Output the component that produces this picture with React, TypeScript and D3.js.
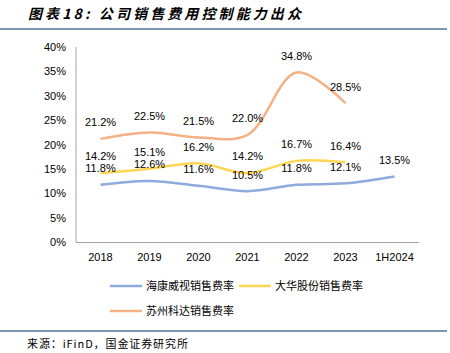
import React from "react";
import * as d3 from "d3";

const categories = ["2018", "2019", "2020", "2021", "2022", "2023", "1H2024"];
const hikvision = [11.8, 12.6, 11.6, 10.5, 11.8, 12.1, 13.5];
const dahua = [14.2, 15.1, 16.2, 14.2, 16.7, 16.4];
const keda = [21.2, 22.5, 21.5, 22.0, 34.8, 28.5];
const yTicks = [0, 5, 10, 15, 20, 25, 30, 35, 40];
const seriesNames = ["海康威视销售费率", "大华股份销售费率", "苏州科达销售费率"];

const COLORS = ["#8FAADC", "#FFD652", "#F4B183"];
const FONT = "Arial, 'Liberation Sans', 'Noto Sans CJK SC', sans-serif";

export default function App() {
  const W = 450, H = 353;
  const x = d3.scalePoint<string>().domain(categories).range([76, 419]).padding(0.5);
  const y = d3.scaleLinear().domain([0, 40]).range([242.5, 47]);
  const line = d3
    .line<number>()
    .x((_, i) => x(categories[i]) as number)
    .y((d) => y(d))
    .curve(d3.curveCatmullRom.alpha(0.5));
  const series = [hikvision, dahua, keda];

  return (
    <svg width={W} height={H} style={{ position: "absolute", left: 0, top: 0, background: "#fff" }} fontFamily={FONT}>
      <text x={28} y={19} fontSize={14} fontWeight="bold" fontStyle="italic" letterSpacing={3.1} fill="#000"
        fontFamily="'Noto Sans CJK SC', sans-serif">
        图表18: 公司销售费用控制能力出众
      </text>
      <line x1={0} x2={447} y1={29} y2={29} stroke="#4F7394" strokeWidth={1.5} />

      {/* axes */}
      <line x1={76} x2={76} y1={47} y2={242.5} stroke="#A6A6A6" strokeWidth={1} />
      <line x1={76} x2={419} y1={242.5} y2={242.5} stroke="#A6A6A6" strokeWidth={1} />
      {yTicks.map((t) => (
        <text key={t} x={66} y={y(t)} dy="0.35em" textAnchor="end" fontSize={11} fill="#000">
          {t}%
        </text>
      ))}
      {categories.map((c) => (
        <text key={c} x={x(c)} y={257} dy="0.35em" textAnchor="middle" fontSize={11} fill="#000">
          {c}
        </text>
      ))}

      {series.map((s, si) => (
        <path key={si} d={line(s) || ""} fill="none" stroke={COLORS[si]} strokeWidth={2.5} />
      ))}
      {series.map((s, si) =>
        s.map((v, i) => (
          <text key={si + "-" + i} x={x(categories[i])} y={y(v) - 16.5} dy="0.35em" textAnchor="middle" fontSize={11} fill="#000">
            {v.toFixed(1)}%
          </text>
        ))
      )}

      {/* legend */}
      {seriesNames.map((n, i) => {
        const lx = i === 1 ? 239 : 110;
        const ly = i === 2 ? 311 : 286;
        return (
          <g key={n}>
            <line x1={lx} x2={lx + 32} y1={ly} y2={ly} stroke={COLORS[i]} strokeWidth={2.5} />
            <text x={lx + 36} y={ly} dy="0.35em" fontSize={11} fill="#000" fontFamily="'Noto Sans CJK SC', sans-serif">
              {n}
            </text>
          </g>
        );
      })}

      <line x1={0} x2={447} y1={331} y2={331} stroke="#4F7394" strokeWidth={1.5} />
      <text x={27} y={344} dy="0.35em" fontSize={11} letterSpacing={0.9} fill="#000" fontFamily="'Noto Sans CJK SC', sans-serif">
        来源：iFinD，国金证券研究所
      </text>
    </svg>
  );
}
